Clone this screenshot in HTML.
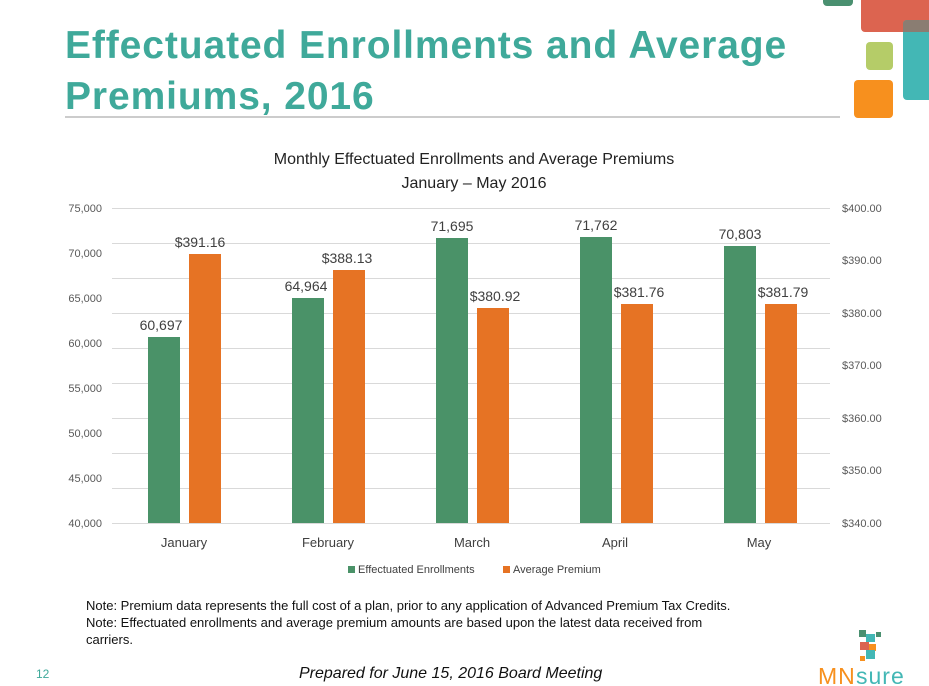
<!DOCTYPE html>
<html><head><meta charset="utf-8"><style>
body{margin:0;width:929px;height:686px;overflow:hidden;background:#fff;position:relative;font-family:"Liberation Sans",sans-serif}
.r{position:absolute;border-radius:4px}
</style></head><body>
<div class="r" style="left:823px;top:-5px;width:30px;height:11px;background:#4a9070"></div>
<div class="r" style="left:861px;top:-5px;width:80px;height:37px;background:#dc6450"></div>
<div class="r" style="left:903px;top:20px;width:30px;height:80px;background:#43b7b5"></div>
<div style="position:absolute;left:903px;top:20px;width:26px;height:12px;background:#8a7d72;border-radius:4px 0 0 0"></div>
<div class="r" style="left:866px;top:42px;width:27px;height:28px;background:#b5cc68"></div>
<div class="r" style="left:854px;top:80px;width:39px;height:38px;background:#f7901e"></div>
<div style="position:absolute;left:65px;top:20px;font-size:39px;font-weight:bold;color:#3fa99a;line-height:51px;letter-spacing:0.9px">Effectuated Enrollments and Average<br>Premiums, 2016</div>
<div style="position:absolute;left:65px;top:116px;width:775px;height:2px;background:#ccc"></div>
<svg width="929" height="686" style="position:absolute;left:0;top:0" font-family="Liberation Sans, sans-serif">
<text x="474" y="164" font-size="16" text-anchor="middle" fill="#222">Monthly Effectuated Enrollments and Average Premiums</text>
<text x="474" y="188" font-size="16" text-anchor="middle" fill="#222">January – May 2016</text>
<g stroke="#d9d9d9" stroke-width="1">
<line x1="112" x2="830" y1="208.5" y2="208.5"/><line x1="112" x2="830" y1="243.5" y2="243.5"/><line x1="112" x2="830" y1="278.5" y2="278.5"/><line x1="112" x2="830" y1="313.5" y2="313.5"/><line x1="112" x2="830" y1="348.5" y2="348.5"/><line x1="112" x2="830" y1="383.5" y2="383.5"/><line x1="112" x2="830" y1="418.5" y2="418.5"/><line x1="112" x2="830" y1="453.5" y2="453.5"/><line x1="112" x2="830" y1="488.5" y2="488.5"/><line x1="112" x2="830" y1="523.5" y2="523.5"/>
</g>
<g font-size="11" fill="#595959" text-anchor="end">
<text x="102" y="212">75,000</text><text x="102" y="257">70,000</text><text x="102" y="302">65,000</text><text x="102" y="347">60,000</text><text x="102" y="392">55,000</text><text x="102" y="437">50,000</text><text x="102" y="482">45,000</text><text x="102" y="527">40,000</text>
</g>
<g font-size="11" fill="#595959">
<text x="842" y="212">$400.00</text><text x="842" y="264">$390.00</text><text x="842" y="317">$380.00</text><text x="842" y="369">$370.00</text><text x="842" y="422">$360.00</text><text x="842" y="474">$350.00</text><text x="842" y="527">$340.00</text>
</g>
<g fill="#4a9268">
<rect x="148" y="337" width="32" height="186"/><rect x="292" y="298" width="32" height="225"/><rect x="436" y="238" width="32" height="285"/><rect x="580" y="237" width="32" height="286"/><rect x="724" y="246" width="32" height="277"/>
</g>
<g fill="#e67324">
<rect x="189" y="254" width="32" height="269"/><rect x="333" y="270" width="32" height="253"/><rect x="477" y="308" width="32" height="215"/><rect x="621" y="304" width="32" height="219"/><rect x="765" y="304" width="32" height="219"/>
</g>
<g font-size="14" fill="#404040" text-anchor="middle">
<text x="161" y="330">60,697</text><text x="306" y="291">64,964</text><text x="452" y="231">71,695</text><text x="596" y="230">71,762</text><text x="740" y="239">70,803</text>
<text x="200" y="247">$391.16</text><text x="347" y="263">$388.13</text><text x="495" y="301">$380.92</text><text x="639" y="297">$381.76</text><text x="783" y="297">$381.79</text>
</g>
<g font-size="13" fill="#404040" text-anchor="middle">
<text x="184" y="547">January</text><text x="328" y="547">February</text><text x="472" y="547">March</text><text x="615" y="547">April</text><text x="759" y="547">May</text>
</g>
<rect x="348" y="566" width="7" height="7" fill="#4a9268"/><text x="358" y="573" font-size="11" fill="#404040">Effectuated Enrollments</text>
<rect x="503" y="566" width="7" height="7" fill="#e67324"/><text x="513" y="573" font-size="11" fill="#404040">Average Premium</text>
<g fill="#4a9070"><rect x="859" y="630" width="7" height="7"/></g>
<rect x="866" y="634" width="9" height="8" fill="#43b7b5"/><rect x="876" y="632" width="5" height="5" fill="#4a9070"/>
<rect x="860" y="642" width="9" height="8" fill="#dc6450"/><rect x="869" y="644" width="7" height="7" fill="#f7901e"/>
<rect x="866" y="650" width="9" height="9" fill="#43b7b5"/><rect x="860" y="656" width="5" height="5" fill="#f7901e"/>
<text x="818" y="684" font-size="23" fill="#f7901e" letter-spacing="1">MN</text><text x="856" y="684" font-size="23" fill="#43b7b5" letter-spacing="1">sure</text>
</svg>
<div style="position:absolute;left:86px;top:597px;font-size:13px;color:#111;line-height:17px;width:740px">Note: Premium data represents the full cost of a plan, prior to any application of Advanced Premium Tax Credits.<br>Note: Effectuated enrollments and average premium amounts are based upon the latest data received from<br>carriers.</div>
<div style="position:absolute;left:36px;top:667px;font-size:12px;color:#3fa99a">12</div>
<div style="position:absolute;left:299px;top:665px;font-size:16px;font-style:italic;color:#111">Prepared for June 15, 2016 Board Meeting</div>
</body></html>
